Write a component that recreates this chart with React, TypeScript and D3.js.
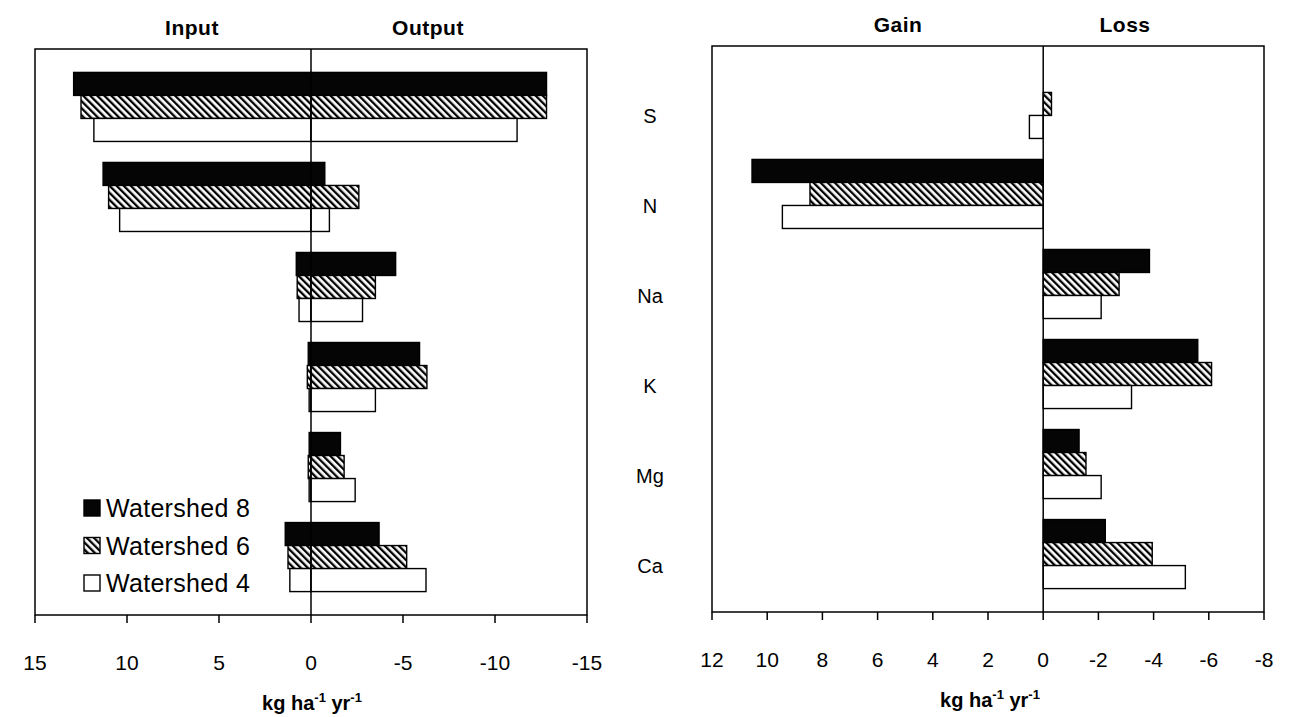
import React from 'react';
import * as d3 from 'd3';

// nutrient budgets, kg ha-1 yr-1
const elements = ['S', 'N', 'Na', 'K', 'Mg', 'Ca'];
const watersheds = ['Watershed 8', 'Watershed 6', 'Watershed 4'];

const input8 = [12.9, 11.3, 0.8, 0.15, 0.1, 1.4];
const input6 = [12.5, 11.0, 0.75, 0.2, 0.15, 1.25];
const input4 = [11.8, 10.4, 0.65, 0.1, 0.1, 1.15];

const output8 = [12.8, 0.75, 4.6, 5.9, 1.6, 3.7];
const output6 = [12.8, 2.6, 3.5, 6.3, 1.8, 5.2];
const output4 = [11.2, 1.0, 2.8, 3.5, 2.4, 6.25];

const net8 = [0, 10.55, -3.85, -5.6, -1.3, -2.25];
const net6 = [-0.3, 8.45, -2.75, -6.1, -1.55, -3.95];
const net4 = [0.5, 9.45, -2.1, -3.2, -2.1, -5.15];

const leftTicks = [15, 10, 5, 0, -5, -10, -15];
const rightTicks = [12, 10, 8, 6, 4, 2, 0, -2, -4, -6, -8];

const FONT = 'Arial, "Liberation Sans", sans-serif';
const fills = ['#050505', 'url(#hatch)', '#ffffff'];

const inputs = [input8, input6, input4];
const outputs = [output8, output6, output4];
const nets = [net8, net6, net4];

const AxisTitle = ({ x, y }: any) => (
  <text x={x} y={y} textAnchor="middle" fontFamily={FONT} fontWeight="bold" fontSize={20}>
    kg ha<tspan dy={-8} fontSize={13}>-1</tspan>
    <tspan dy={8}> yr</tspan>
    <tspan dy={-8} fontSize={13}>-1</tspan>
  </text>
);

const Title = ({ x, y, children }: any) => (
  <text x={x} y={y} textAnchor="middle" fontFamily={FONT} fontWeight="bold" fontSize={21} letterSpacing={0.5}>
    {children}
  </text>
);

export default function App() {
  const xL = d3.scaleLinear().domain([15, -15]).range([35, 587]);
  const yL = d3
    .scaleBand()
    .domain(elements)
    .range([49, 615])
    .paddingInner(0.233)
    .paddingOuter(0.26);

  const xR = d3.scaleLinear().domain([12, -8]).range([712, 1264]);
  const yR = d3
    .scaleBand()
    .domain(elements)
    .range([46, 612])
    .paddingInner(0.233)
    .paddingOuter(0.26);

  const barH = yL.bandwidth() / 3;
  const barHR = yR.bandwidth() / 3;

  return (
    <svg
      width={1297}
      height={717}
      style={{ position: 'absolute', left: 0, top: 0, background: '#fff' }}
    >
      <defs>
        <pattern
          id="hatch"
          patternUnits="userSpaceOnUse"
          width={5}
          height={5}
          patternTransform="rotate(-45)"
        >
          <rect x={0} y={0} width={5} height={5} fill="#fff" />
          <rect x={0} y={0} width={2.3} height={5} fill="#000" />
        </pattern>
      </defs>

      {/* ---------- left panel: input / output ---------- */}
      <g>
        {elements.map((el, i) =>
          watersheds.map((_, s) => {
            const y = (yL(el) as number) + s * barH;
            const inp = inputs[s][i];
            const out = outputs[s][i];
            return (
              <g key={`l-${el}-${s}`}>
                <rect
                  x={xL(inp)}
                  y={y}
                  width={xL(0) - xL(inp)}
                  height={barH}
                  fill={fills[s]}
                  stroke="#000"
                  strokeWidth={1.4}
                />
                <rect
                  x={xL(0)}
                  y={y}
                  width={xL(-out) - xL(0)}
                  height={barH}
                  fill={fills[s]}
                  stroke="#000"
                  strokeWidth={1.4}
                />
              </g>
            );
          })
        )}
        <rect x={35} y={49} width={552} height={566} fill="none" stroke="#000" strokeWidth={1.5} />
        <line x1={xL(0)} x2={xL(0)} y1={49} y2={615} stroke="#000" strokeWidth={1.5} />
        {leftTicks.map((t) => (
          <g key={`lt${t}`}>
            <line x1={xL(t)} x2={xL(t)} y1={615} y2={623} stroke="#000" strokeWidth={1.5} />
            <text
              x={xL(t)}
              y={670}
              textAnchor="middle"
              fontFamily={FONT}
              fontSize={21}
            >
              {t}
            </text>
          </g>
        ))}
        <Title x={192} y={35}>Input</Title>
        <Title x={428} y={35}>Output</Title>
        <AxisTitle x={312} y={710} />

        {/* legend */}
        {watersheds.map((w, s) => {
          const cy = 508 + s * 37.5;
          return (
            <g key={w}>
              <rect
                x={84}
                y={cy - 8}
                width={16}
                height={16}
                fill={fills[s]}
                stroke="#000"
                strokeWidth={1.4}
              />
              <text x={106} y={cy + 9} fontFamily={FONT} fontSize={25} letterSpacing={0.3}>
                {w}
              </text>
            </g>
          );
        })}
      </g>

      {/* category labels */}
      {elements.map((el) => (
        <text
          key={`c-${el}`}
          x={650}
          y={(yL(el) as number) + yL.bandwidth() / 2 + 16}
          textAnchor="middle"
          fontFamily={FONT}
          fontSize={20}
        >
          {el}
        </text>
      ))}

      {/* ---------- right panel: net gain / loss ---------- */}
      <g>
        {elements.map((el, i) =>
          watersheds.map((_, s) => {
            const v = nets[s][i];
            if (v === 0) return null;
            const y = (yR(el) as number) + s * barHR;
            const x0 = Math.min(xR(v), xR(0));
            return (
              <rect
                key={`r-${el}-${s}`}
                x={x0}
                y={y}
                width={Math.abs(xR(v) - xR(0))}
                height={barHR}
                fill={fills[s]}
                stroke="#000"
                strokeWidth={1.4}
              />
            );
          })
        )}
        <rect x={712} y={46} width={552} height={566} fill="none" stroke="#000" strokeWidth={1.5} />
        <line x1={xR(0)} x2={xR(0)} y1={46} y2={612} stroke="#000" strokeWidth={1.5} />
        {rightTicks.map((t) => (
          <g key={`rt${t}`}>
            <line x1={xR(t)} x2={xR(t)} y1={612} y2={620} stroke="#000" strokeWidth={1.5} />
            <text
              x={xR(t)}
              y={667}
              textAnchor="middle"
              fontFamily={FONT}
              fontSize={21}
            >
              {t}
            </text>
          </g>
        ))}
        <Title x={898} y={32}>Gain</Title>
        <Title x={1125} y={32}>Loss</Title>
        <AxisTitle x={990} y={707} />
      </g>
    </svg>
  );
}
